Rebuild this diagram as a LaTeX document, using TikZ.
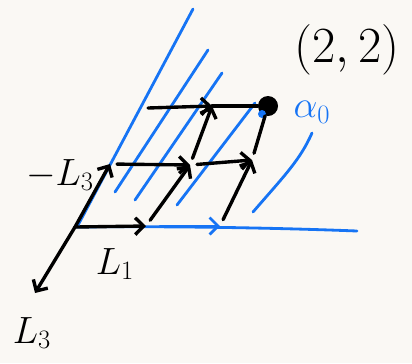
\RequirePackage{fix-cm}
\documentclass[tikz,border=0pt]{standalone}
\usepackage{amsmath}
\usepackage{tikz}
\usetikzlibrary{arrows.meta}

\definecolor{inkblue}{RGB}{22,116,244}
\definecolor{paper}{RGB}{250,248,244}
\tikzset{
  ink/.style={line width=2.4pt, line cap=round, line join=round},
  move/.style={ink, -{Straight Barb[length=6pt,width=12pt]}},
  wall/.style={inkblue, line width=2pt, line cap=round},
  bigtext/.style={font=\fontsize{27}{32}\selectfont},
  hugetext/.style={font=\fontsize{36}{40}\selectfont}
}

\begin{document}
\begin{tikzpicture}[x=0.025cm,y=-0.025cm]
  \fill[paper] (0,0) rectangle (412,363);
  \useasboundingbox (0,0) rectangle (412,363);
  \coordinate (o) at (75,227);
  \coordinate (p10) at (146,226);
  \coordinate (p20) at (220,226);
  \coordinate (p01) at (110,164);
  \coordinate (p11) at (190,165);
  \coordinate (p21) at (252,160);
  \coordinate (p02) at (148,108);
  \coordinate (p12) at (212,106);
  \coordinate (l3) at (35,293);
  \coordinate (far) at (357,231);
  \foreach \a/\b/\c/\d in {77/227/193/9, 115/192/208/50, 135/200/222/73, 177/205/255/103}
    \draw[wall] (\a,\b) -- (\c,\d);
  \draw[wall] (253,212) .. controls (285,175) and (300,160) .. (312,133);
  \draw[wall] (o) .. controls (180,226) and (280,228) .. (far);
  \draw[wall, -{Straight Barb[length=6pt,width=12pt]}, shorten <=10pt] (p10) -- (p20);
  \node[circle, fill, minimum size=0.5cm, inner sep=0pt] (top) at (268,106) {};
  \fill[inkblue] (262,114) circle [radius=0.1cm];
  \draw[move] (o) -- (p10);
  \draw[move] (o) -- (p01);
  \draw[move] (o) -- (l3);
  \draw[move, shorten <=5pt] (p01) -- (p11);
  \draw[move, shorten <=5pt] (p10) -- (p11);
  \draw[move, shorten <=5pt] (p20) -- (p21);
  \draw[move, shorten <=5pt] (p11) -- (p21);
  \draw[move, shorten <=5pt] (p11) -- (p12);
  \draw[move] (p02) -- (p12);
  \draw[ink] (p12) -- (top);
  \draw[ink, shorten <=5pt] (p21) -- (top);
  \node[bigtext] (negthree) at (60,175) {$-L_3$};
  \node[bigtext] (one) at (115,264) {$L_1$};
  \node[bigtext] (three) at (32,333) {$L_3$};
  \node[hugetext] (goal) at (347,50) {$(2,2)$};
  \node[bigtext, text=inkblue] (alpha) at (312,112) {$\alpha_0$};
\end{tikzpicture}
\end{document}
